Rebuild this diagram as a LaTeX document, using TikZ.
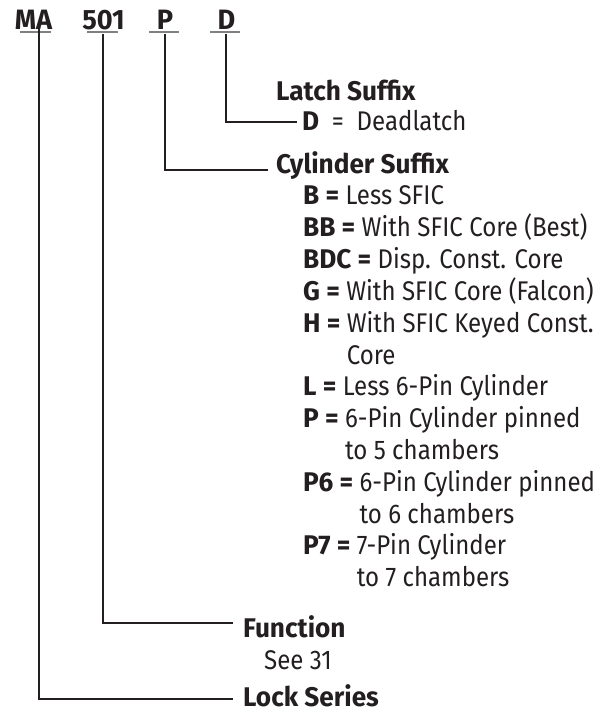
\documentclass[tikz,border=0pt]{standalone}
\usepackage{fontspec}
\setmainfont{Fira Sans}[UprightFeatures={FakeStretch=0.89},BoldFeatures={FakeStretch=0.97}]
\definecolor{ink}{HTML}{231F20}
\definecolor{rulegray}{HTML}{808080}
\tikzset{
  toplabel/.style={font=\fontsize{28}{30}\selectfont\bfseries, text=ink, anchor=base, inner sep=0pt},
  head/.style={font=\fontsize{27}{30}\selectfont\bfseries, text=ink, anchor=base west, inner sep=0pt},
  entry/.style={font=\fontsize{27}{30}\selectfont, text=ink, anchor=base west, inner sep=0pt},
  conn/.style={draw=ink, line width=2.2pt},
  uline/.style={draw=rulegray, line width=2pt}
}
\begin{document}
\begin{tikzpicture}[x=1pt,y=-1pt]
\useasboundingbox (0,0) rectangle (597,711);
% top code
\node[toplabel] (ma) at (33.5,30) {MA};
\node[toplabel] (n501) at (103.5,30) {501};
\node[toplabel] (p) at (165,30) {P};
\node[toplabel] (d) at (226.5,30) {D};
\draw[uline] (20,32.5) -- (51,32.5);
\draw[uline] (87,32.5) -- (118,32.5);
\draw[uline] (149,32.5) -- (179,32.5);
\draw[uline] (210,32.5) -- (240,32.5);
% headings
\node[head] (latch) at (276,101) {Latch Suffix};
\node[entry] (dd) at (302,131) {\textbf{D}\ \ =\ \ Deadlatch};
\node[head] (cyl) at (276,173.5) {Cylinder Suffix};
\node[entry] (eB) at (303,205) {\textbf{B =} Less SFIC};
\node[entry] (eBB) at (303,236.8) {\textbf{BB =} With SFIC Core (Best)};
\node[entry] (eBDC) at (303,268.6) {\textbf{BDC =} Disp. Const. Core};
\node[entry] (eG) at (303,300.4) {\textbf{G =} With SFIC Core (Falcon)};
\node[entry] (eH) at (303,332.2) {\textbf{H =} With SFIC Keyed Const.};
\node[entry] (eH2) at (303,364) {\phantom{\textbf{H =} }Core};
\node[entry] (eL) at (303,395.8) {\textbf{L =} Less 6-Pin Cylinder};
\node[entry] (eP) at (303,427.6) {\textbf{P =} 6-Pin Cylinder pinned};
\node[entry] (eP2) at (303,459.4) {\phantom{\textbf{P =} }to 5 chambers};
\node[entry] (eP6) at (303,491.2) {\textbf{P6 =} 6-Pin Cylinder pinned};
\node[entry] (eP62) at (303,523) {\phantom{\textbf{P6 =} }to 6 chambers};
\node[entry] (eP7) at (303,554.8) {\textbf{P7 =} 7-Pin Cylinder};
\node[entry] (eP72) at (303,586.6) {\phantom{\textbf{P7 =} }to 7 chambers};
\node[head] (func) at (243,637) {Function};
\node[entry] (see) at (264,669) {See 31};
\node[head] (lock) at (243,706) {Lock Series};
% connectors
\coordinate (maT) at (39,28);
\coordinate (lockE) at (233,699);
\coordinate (n501T) at (103,34);
\coordinate (funcE) at (233,623);
\coordinate (pT) at (165,34);
\coordinate (cylE) at (268,170);
\coordinate (dT) at (226,34);
\coordinate (ddE) at (297,122);
\draw[conn] (maT) |- (lockE);
\draw[conn] (n501T) |- (funcE);
\draw[conn] (pT) |- (cylE);
\draw[conn] (dT) |- (ddE);
\end{tikzpicture}
\end{document}
